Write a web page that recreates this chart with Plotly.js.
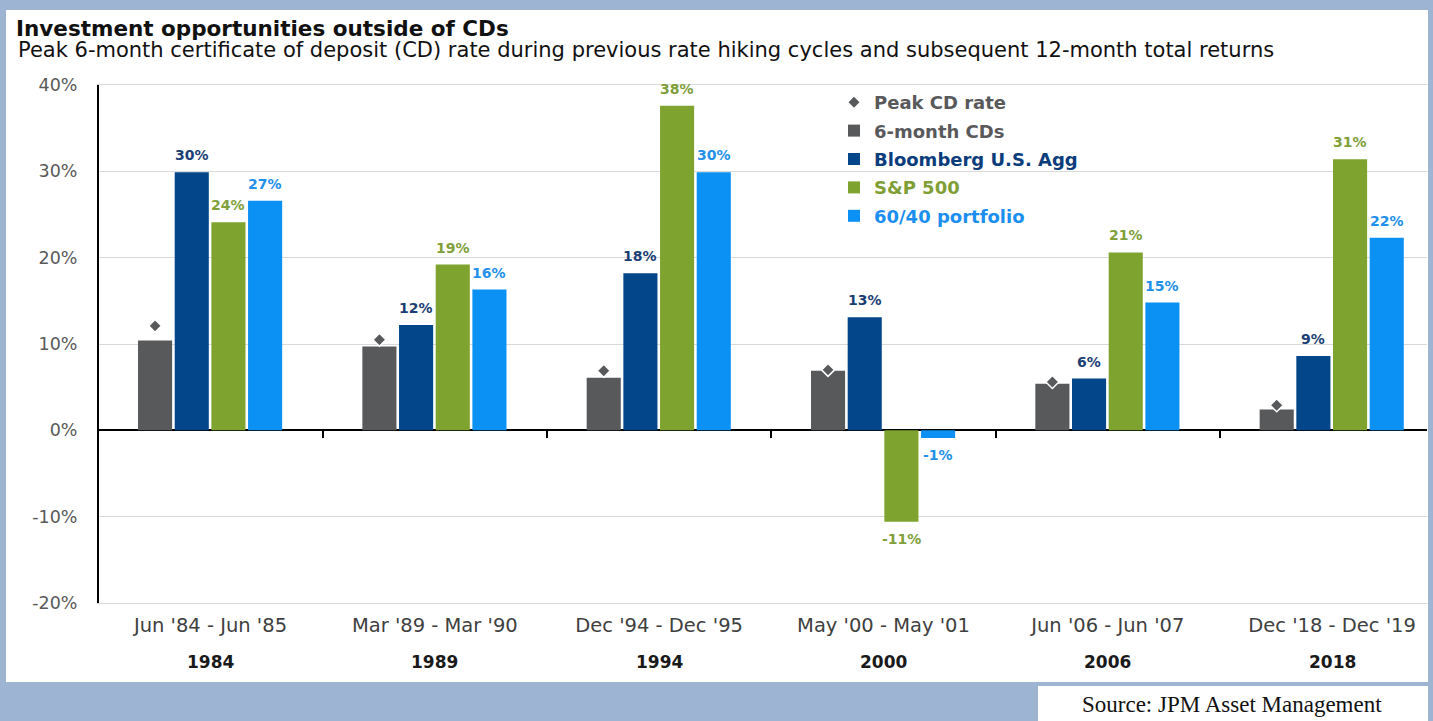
<!DOCTYPE html>
<html>
<head>
<meta charset="utf-8">
<script src="https://cdn.plot.ly/plotly-3.0.1.min.js"></script>
<style>
  html, body { margin: 0; padding: 0; background: #9db5d3; }
  #chart { width: 1433px; height: 721px; }
</style>
</head>
<body>
<div id="chart"></div>
<script>
// Rate hiking cycles and the 12-month window that followed each CD peak
const periods = ["Jun '84 - Jun '85", "Mar '89 - Mar '90", "Dec '94 - Dec '95", "May '00 - May '01", "Jun '06 - Jun '07", "Dec '18 - Dec '19"];
const cycleYears = ["1984", "1989", "1994", "2000", "2006", "2018"];

// Values in percent
const peakCdRate    = [12.1, 10.5, 6.9, 7.0, 5.6, 2.9];
const cd6Month      = [10.4, 9.7, 6.1, 6.9, 5.4, 2.4];
const bloombergAgg  = [29.9, 12.2, 18.2, 13.1, 6.0, 8.6];
const sp500         = [24.1, 19.2, 37.6, -10.6, 20.6, 31.4];
const portfolio6040 = [26.6, 16.3, 29.9, -0.9, 14.8, 22.3];

const yTickVals = [-20, -10, 0, 10, 20, 30, 40];

// ---- page geometry (pixels) ----
const W = 1433, H = 721;
const M = { l: 99, r: 6, t: 85, b: 118 };
const plotW = W - M.l - M.r, plotH = H - M.t - M.b;
const px = x => (x - M.l) / plotW;          // pixel -> paper x
const py = y => (H - M.b - y) / plotH;      // pixel -> paper y

const yRange = [-20, 40];
const xRange = [-0.497, 5.423];

// bar layout inside each cycle group
const barW = 0.152;
const barPitch = 0.1635;
const firstOffset = -0.323;
const idx = cycleYears.map((_, i) => i);

const series = [
  { name: '6-month CDs',        y: cd6Month,      color: '#58595b', text: '#59595b', labels: false },
  { name: 'Bloomberg U.S. Agg', y: bloombergAgg,  color: '#03478a', text: '#0b3c7c', labels: true, labelColor: '#1b3f74' },
  { name: 'S&P 500',            y: sp500,         color: '#7ea32f', text: '#7f9f36', labels: true, labelColor: '#80a03a' },
  { name: '60/40 portfolio',    y: portfolio6040, color: '#0b90f4', text: '#1b8ff0', labels: true, labelColor: '#2390ea' }
];

const FONT = 'DejaVu Sans, Verdana, sans-serif';

const traces = [];
const annotations = [];

// Peak CD rate diamonds sit over the 6-month CD bar of each group
const grayCenter = firstOffset + barW / 2;
traces.push({
  type: 'scatter',
  mode: 'markers',
  name: '<span style="color:#59595b">Peak CD rate</span>',
  legendgroup: 'peak',
  x: idx.map(i => i + grayCenter),
  y: peakCdRate,
  xaxis: 'x2',
  yaxis: 'y',
  cliponaxis: false,
  marker: { symbol: 'diamond', size: 10, color: '#58595b', line: { color: '#ffffff', width: 1.5 } },
  hoverinfo: 'skip'
});

series.forEach((s, k) => {
  const off = firstOffset + k * barPitch;
  traces.push({
    type: 'bar',
    name: '<span style="color:' + s.text + '">' + s.name + '</span>',
    legendgroup: 'g' + k,
    x: idx,
    y: s.y,
    offset: off,
    width: barW,
    marker: { color: s.color, line: { width: 0 } },
    hoverinfo: 'skip'
  });
  if (s.labels) {
    s.y.forEach((v, i) => {
      annotations.push({
        x: i + off + barW / 2,
        y: v,
        xref: 'x',
        yref: 'y',
        text: Math.round(v) + '%',
        showarrow: false,
        yanchor: v >= 0 ? 'bottom' : 'top',
        yshift: v >= 0 ? 7 : -7,
        font: { family: FONT, size: 14, weight: 'bold', color: s.labelColor }
      });
    });
  }
});

// cycle start years under the period labels
cycleYears.forEach((yr, i) => {
  annotations.push({
    x: i, y: py(662), xref: 'x', yref: 'paper',
    text: yr, showarrow: false, yanchor: 'middle',
    font: { family: FONT, size: 17, weight: 'bold', color: '#1a1a1a' }
  });
});

// subtitle
annotations.push({
  x: px(16), y: py(50), xref: 'paper', yref: 'paper',
  xanchor: 'left', yanchor: 'middle', showarrow: false,
  text: 'Peak 6-month certificate of deposit (CD) rate during previous rate hiking cycles and subsequent 12-month total returns',
  font: { family: FONT, size: 21, color: '#111111' }
});

// source note
annotations.push({
  x: px(1232), y: py(704), xref: 'paper', yref: 'paper',
  xanchor: 'center', yanchor: 'middle', showarrow: false,
  text: 'Source: JPM Asset Management',
  font: { family: 'Liberation Serif, Times New Roman, serif', size: 23, color: '#111111' }
});

const shapes = [
  // white chart panel
  { type: 'rect', xref: 'paper', yref: 'paper', layer: 'below',
    x0: px(6), x1: px(1428), y0: py(682), y1: py(10),
    fillcolor: '#ffffff', line: { width: 0 } },
  // white source box
  { type: 'rect', xref: 'paper', yref: 'paper', layer: 'below',
    x0: px(1038), x1: px(1428), y0: py(722), y1: py(686),
    fillcolor: '#ffffff', line: { width: 0 } }
];

const layout = {
  width: W,
  height: H,
  margin: M,
  paper_bgcolor: '#9db5d3',
  plot_bgcolor: 'rgba(0,0,0,0)',
  barmode: 'overlay',
  showlegend: true,
  title: {
    text: 'Investment opportunities outside of CDs',
    font: { family: FONT, size: 21.5, weight: 'bold', color: '#111111' },
    xref: 'container', yref: 'container',
    x: 16 / W, xanchor: 'left',
    y: 1 - 28 / H, yanchor: 'middle'
  },
  xaxis: {
    range: xRange,
    tickmode: 'array',
    tickvals: idx,
    ticktext: periods,
    ticks: '',
    showgrid: false,
    zeroline: false,
    // light rules along the top (40%) and bottom (-20%) edges
    showline: true,
    linecolor: '#d9d9d9',
    linewidth: 1,
    mirror: true,
    ticklabelstandoff: 5,
    tickfont: { family: FONT, size: 19.5, color: '#404040' },
    fixedrange: true
  },
  xaxis2: {
    overlaying: 'x',
    anchor: 'free',
    position: (0 - yRange[0]) / (yRange[1] - yRange[0]),
    side: 'bottom',
    range: xRange,
    tickmode: 'array',
    tickvals: idx.slice(1).map(i => i - 0.5),
    ticks: 'outside',
    ticklen: 7,
    tickwidth: 2,
    tickcolor: '#000000',
    showticklabels: false,
    showgrid: false,
    zeroline: false,
    showline: false,
    fixedrange: true
  },
  yaxis: {
    range: yRange,
    tickmode: 'array',
    tickvals: yTickVals,
    ticktext: yTickVals.map(v => v + '%'),
    showgrid: true,
    gridcolor: '#d9d9d9',
    gridwidth: 1,
    zeroline: true,
    zerolinecolor: '#000000',
    zerolinewidth: 2,
    showline: true,
    linecolor: '#000000',
    linewidth: 2,
    ticks: '',
    ticklabelstandoff: 16,
    tickfont: { family: FONT, size: 17.5, color: '#595959' },
    fixedrange: true
  },
  legend: {
    x: px(834), y: py(84),
    xanchor: 'left', yanchor: 'top',
    bgcolor: 'rgba(0,0,0,0)',
    borderwidth: 0,
    traceorder: 'grouped',
    tracegroupgap: 2,
    font: { family: FONT, size: 18, weight: 'bold', color: '#59595b' }
  },
  shapes: shapes,
  annotations: annotations
};

Plotly.newPlot('chart', traces, layout, { displayModeBar: false, staticPlot: true });
</script>
</body>
</html>
